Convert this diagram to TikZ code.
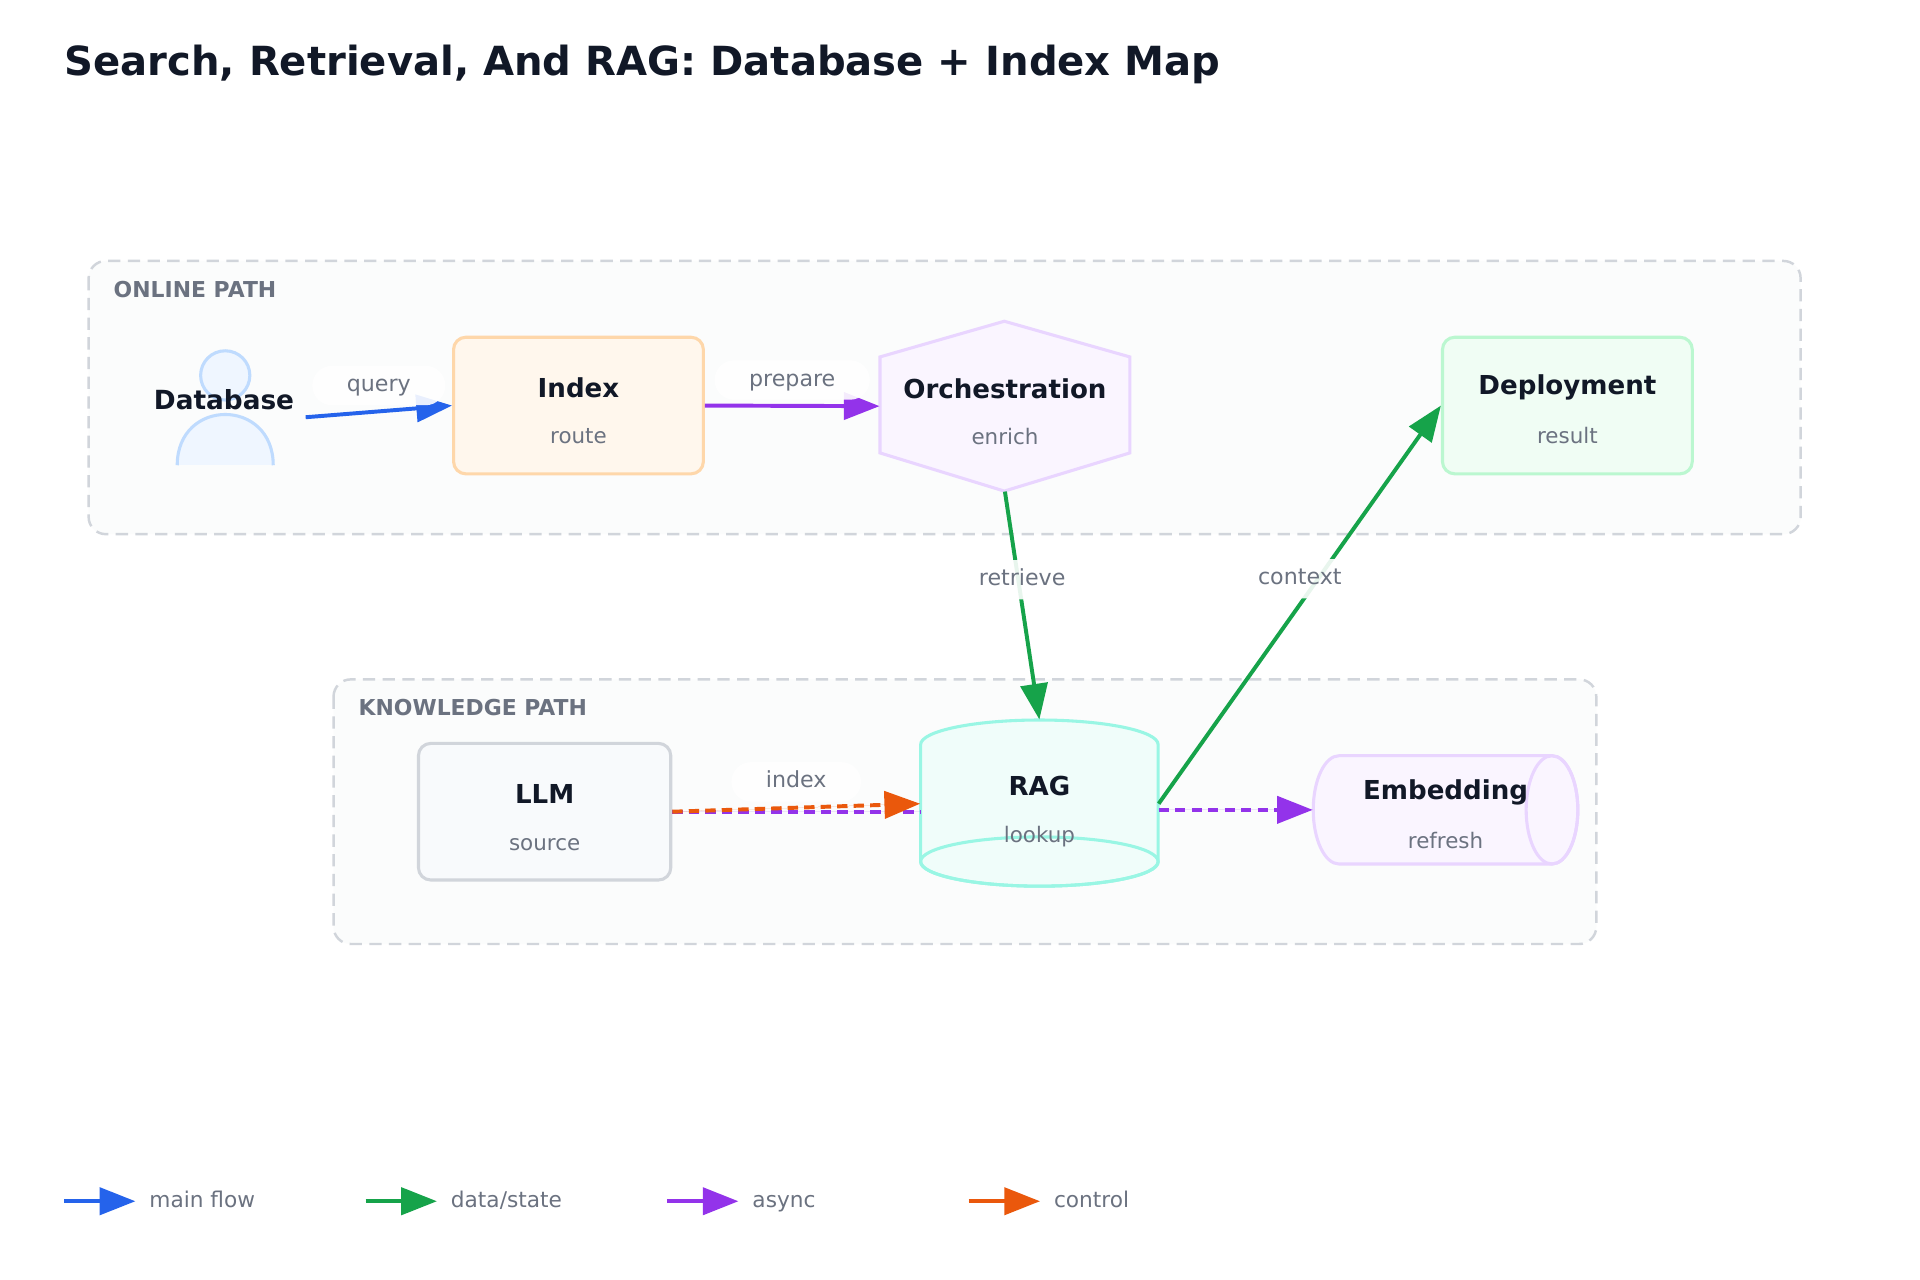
\documentclass[tikz,border=0pt]{standalone}
\usepackage{fontspec}
\setmainfont{DejaVu Sans}
\usepackage{tikz}
\usetikzlibrary{arrows.meta, positioning, calc}
\definecolor{ink}{HTML}{111827}
\definecolor{muted}{HTML}{6B7280}
\definecolor{grpline}{HTML}{D1D5DB}
\definecolor{grpfill}{HTML}{FBFCFC}
\definecolor{mainc}{HTML}{2563EB}
\definecolor{datac}{HTML}{16A34A}
\definecolor{asyncc}{HTML}{9333EA}
\definecolor{ctrlc}{HTML}{EA580C}
\definecolor{orgfill}{HTML}{FFF7ED}
\definecolor{orgline}{HTML}{FED7AA}
\definecolor{viofill}{HTML}{FAF5FF}
\definecolor{violine}{HTML}{E9D5FF}
\definecolor{grnfill}{HTML}{F0FDF4}
\definecolor{grnline}{HTML}{BBF7D0}
\definecolor{gryfill}{HTML}{F8FAFC}
\definecolor{gryline}{HTML}{D1D5DB}
\definecolor{tealfill}{HTML}{F0FDFA}
\definecolor{tealline}{HTML}{99F6E4}
\definecolor{blufill}{HTML}{EFF6FF}
\definecolor{bluline}{HTML}{BFDBFE}

\begin{document}
\begin{tikzpicture}[x=0.5pt, y=-0.5pt,
  ttl/.style={font=\fontsize{10.6}{13}\selectfont\bfseries, text=ink, yshift=7.25pt},
  sub/.style={font=\fontsize{8.7}{11}\selectfont, text=muted, yshift=-13.25pt,
              text height=6.5pt, text depth=1.8pt},
  txt/.style 2 args={label={[ttl]center:#1}, label={[sub]center:#2}},
  box/.style={draw=#1line, fill=#1fill, line width=1.25pt, rounded corners=5pt,
              minimum width=101.5pt, minimum height=55.5pt},
  outline/.style={draw=#1line, fill=#1fill, line width=1.25pt},
  group/.style={draw=grpline, fill=grpfill, line width=1pt, dash pattern=on 5pt off 3pt,
                rounded corners=7pt},
  grplbl/.style={anchor=west, inner sep=0pt, text=muted,
                 font=\fontsize{8.9}{11}\selectfont\bfseries},
  flow/.style={line width=1.6pt, -{Triangle[length=14.5pt, width=11pt]}},
  mainflow/.style={flow, draw=mainc, fill=mainc},
  dataflow/.style={flow, draw=datac, fill=datac},
  async/.style={flow, draw=asyncc, fill=asyncc},
  ctrl/.style={flow, draw=ctrlc, fill=ctrlc},
  broken/.style={dash pattern=on 4.2pt off 2.5pt},
  elabel/.style={fill=white, fill opacity=0.9, text opacity=1, rounded corners=8pt,
                 inner xsep=14pt, inner ysep=0pt, minimum height=16pt, yshift=10.5pt,
                 text height=6.8pt, text depth=1.9pt,
                 text=muted, font=\fontsize{9}{11}\selectfont},
  legtxt/.style={anchor=west, inner xsep=5.5pt, text height=6.6pt, text depth=1.8pt,
                 text=muted, font=\fontsize{8.8}{11}\selectfont}]

\fill[white] (0,0) rectangle (1560,1040);
\useasboundingbox (0,0) rectangle (1560,1040);

\node[anchor=west, inner sep=0pt, text=ink, font=\fontsize{16.3}{20}\selectfont\bfseries]
  (title) at (52,52) {Search, Retrieval, And RAG: Database + Index Map};

% groups
\draw[group] (72,212) rectangle (1463,434);
\node[grplbl] (onl) at (92,235) {ONLINE PATH};
\draw[group] (271,552) rectangle (1297,767);
\node[grplbl] (kno) at (291,575) {KNOWLEDGE PATH};

% online path
\draw[outline=blu] (183,305) circle[radius=10pt];
\fill[blufill] (144,378) .. controls (144,323) and (222,323) .. (222,378) -- cycle;
\draw[bluline, line width=1.25pt] (144,378) .. controls (144,323) and (222,323) .. (222,378);
\node[inner xsep=4.5pt, text=ink, font=\fontsize{10.7}{13}\selectfont\bfseries]
  (db) at (182,325) {Database};

\node[box=org, txt={Index}{route}] (index) at (470,329.5) {};

\draw[outline=vio] (816,261) -- (918,290) -- (918,368) -- (816,399) -- (715,368) -- (715,290) -- cycle;
\node[minimum width=101.5pt, minimum height=69pt, txt={Orchestration}{enrich}] (orch) at (816.5,330) {};

\node[box=grn, txt={Deployment}{result}] (deploy) at (1273.5,329.5) {};

% knowledge path
\node[box=gry, minimum width=102.5pt, txt={LLM}{source}] (llm) at (442.5,659.5) {};

\draw[outline=teal] (748,605) -- (748,700) arc[start angle=180, end angle=360, x radius=48.25pt, y radius=10pt]
  -- (941,605) arc[start angle=0, end angle=180, x radius=48.25pt, y radius=10pt] -- cycle;
\draw[tealline, line width=1.25pt] (844.5,700) ellipse[x radius=48.25pt, y radius=10pt];
\node[minimum width=96.5pt, minimum height=68pt, txt={RAG}{lookup}] (rag) at (844.5,653) {};

\draw[outline=vio] (1088,614) arc[start angle=90, end angle=270, x radius=10.5pt, y radius=22pt]
  -- (1261,702) arc[start angle=270, end angle=450, x radius=10.5pt, y radius=22pt] -- cycle;
\draw[violine, line width=1.25pt] (1261,658) ellipse[x radius=10.5pt, y radius=22pt];
\node[minimum width=107.5pt, minimum height=44pt, txt={Embedding}{refresh}] (emb) at (1174.5,658) {};

% connectors
\draw[mainflow] ([yshift=-7pt]db.east) -- (index.west) node[elabel, midway] (lq) {query};
\draw[async] (index.east) -- (orch.west) node[elabel, midway] (lp) {prepare};
\draw[dataflow] (orch.south) -- (rag.north) node[elabel, midway] (lr) {retrieve};
\draw[dataflow] (rag.east) -- (deploy.west) node[elabel, midway] (lc) {context};
\draw[async, broken, arrows=-] (llm.east) -- (llm.east -| rag.west);
\draw[ctrl, broken] (llm.east) -- (rag.west) node[elabel, midway] (li) {index};
\draw[async, broken] (rag.east |- emb.west) -- (emb.west);

% legend
\coordinate (k1) at (52,976);
\coordinate (k2) at (297,976);
\coordinate (k3) at (542,976);
\coordinate (k4) at (787,976);
\node[legtxt, right=29pt of k1] (k1t) {main flow};
\node[legtxt, right=29pt of k2] (k2t) {data/state};
\node[legtxt, right=29pt of k3] (k3t) {async};
\node[legtxt, right=29pt of k4] (k4t) {control};
\draw[mainflow] (k1) -- (k1t.west);
\draw[dataflow] (k2) -- (k2t.west);
\draw[async] (k3) -- (k3t.west);
\draw[ctrl] (k4) -- (k4t.west);
\end{tikzpicture}
\end{document}
